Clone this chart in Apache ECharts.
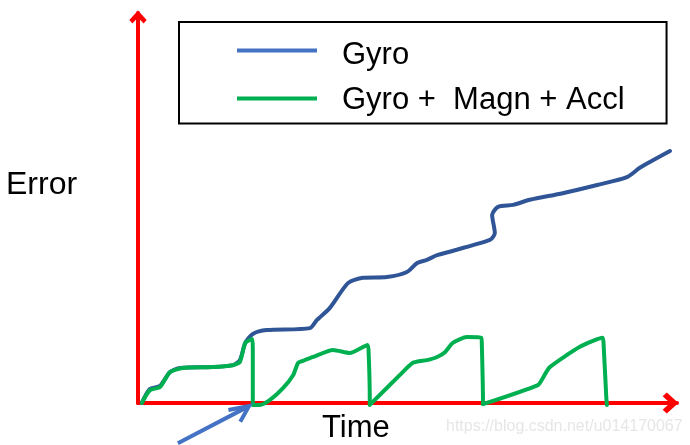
<!DOCTYPE html>
<html>
<head>
<meta charset="utf-8">
<script src="https://cdn.jsdelivr.net/npm/echarts@6/dist/echarts.min.js"></script>
<style>html,body{margin:0;padding:0;background:#fff;}#c{width:690px;height:445px;}</style>
</head>
<body>
<div id="c"></div>
<script>
// Series names
const seriesNames = ['Gyro', 'Gyro +  Magn + Accl'];
// Gyro error: [time, error]
const gyroTime  = [0.7, 2.2, 4.1, 5.9, 7.8, 13.9, 17.6, 18.9, 19.9, 21.3, 23.9, 31.9, 33.2, 35.6, 39.0, 41.7, 46.2, 49.9, 51.8, 53.6, 55.5, 65.3, 66.2, 65.7, 66.8, 69.6, 72.7, 78.8, 85.2, 90.7, 93.1, 98.7];
const gyroError = [0.0, 3.6, 4.4, 7.9, 9.0, 9.2, 9.7, 11.0, 15.4, 17.7, 18.7, 19.2, 21.3, 24.4, 30.8, 32.1, 32.3, 33.6, 35.9, 36.7, 37.9, 41.8, 43.6, 48.2, 50.3, 50.8, 52.1, 53.8, 55.9, 57.9, 60.3, 64.6];
// Gyro + Magn + Accl error: [time, error]
const fusedTime  = [0.7, 2.2, 4.1, 5.9, 8.3, 13.9, 17.6, 18.9, 19.9, 21.2, 21.3, 21.3, 21.3, 22.6, 24.5, 26.9, 28.8, 29.7, 30.6, 32.5, 36.2, 39.3, 42.6, 42.8, 43.0, 43.0, 48.6, 51.0, 53.6, 55.5, 57.0, 58.4, 61.0, 63.7, 63.8, 64.0, 64.0, 74.2, 75.1, 76.4, 82.0, 86.2, 86.4, 86.9, 87.0];
const fusedError = [0.0, 3.3, 4.1, 7.9, 9.0, 9.2, 9.7, 10.5, 15.4, 16.4, 14.0, 1.0, -0.5, -0.5, 0.8, 3.8, 7.2, 10.3, 10.8, 11.8, 13.6, 12.8, 14.9, 12.5, 1.0, -0.5, 7.2, 10.3, 11.0, 11.8, 13.1, 15.4, 16.9, 16.7, 14.5, 1.0, -0.3, 4.6, 6.4, 9.2, 14.4, 16.7, 14.5, 1.0, -0.5];
// Annotation arrow: tail and tip, in data units
const arrowFrom = [7.4, -10.3];
const arrowTo   = [20.6, -0.8];

const zip = (a, b) => a.map((v, i) => [v, b[i]]);
const chevron = 'path://M10,0 L20,11 L16.5,15 L10,8 L3.5,15 L0,11 Z';
const FONT = 'Liberation Sans';

const chart = echarts.init(document.getElementById('c'), null, {renderer: 'canvas'});
chart.setOption({
  animation: false,
  backgroundColor: '#ffffff',
  title: [
    {text: 'Error', left: 6, top: 169, padding: 0, textStyle: {fontFamily: FONT, fontSize: 32, fontWeight: 'normal', color: '#000'}},
    {text: 'Time', left: 322, top: 413, padding: 0, textStyle: {fontFamily: FONT, fontSize: 31, fontWeight: 'normal', color: '#000'}},
    {text: 'https://blog.csdn.net/u014170067', left: 446, top: 419, padding: 0, textStyle: {fontFamily: FONT, fontSize: 16, fontWeight: 'normal', color: '#e6e6e6'}}
  ],
  legend: {
    orient: 'vertical',
    left: 179, top: 22,
    padding: [8.5, 42, 8, 58],
    itemGap: 11,
    icon: 'rect',
    itemWidth: 80, itemHeight: 4,
    borderColor: '#000', borderWidth: 2,
    selectedMode: false,
    formatter: (name) => (name === seriesNames[0] ? '{a|' : '{b|') + name + '}',
    textStyle: {
      fontFamily: FONT, fontSize: 31, color: '#000', padding: [0, 0, 0, 20],
      rich: {
        a: {fontFamily: FONT, fontSize: 31, color: '#000', lineHeight: 30, padding: [9, 0, 0, 0]},
        b: {fontFamily: FONT, fontSize: 31, color: '#000', lineHeight: 30, padding: [3, 0, 0, 0]}
      }
    },
    data: [
      {name: seriesNames[0], itemStyle: {color: '#4472C4'}},
      {name: seriesNames[1], itemStyle: {color: '#00B050'}}
    ]
  },
  grid: {left: 138, right: 13, top: 13, bottom: 42},
  xAxis: {
    type: 'value', min: 0, max: 100,
    axisLine: {show: true, symbol: ['none', chevron], symbolSize: [21, 17], symbolOffset: [0, -6.5], lineStyle: {color: '#FF0000', width: 4}},
    axisTick: {show: false}, axisLabel: {show: false}, splitLine: {show: false}
  },
  yAxis: {
    type: 'value', min: 0, max: 100,
    axisLine: {show: true, onZero: false, symbol: ['none', chevron], symbolSize: [18, 13], symbolOffset: [0, -4], lineStyle: {color: '#FF0000', width: 4}},
    axisTick: {show: false}, axisLabel: {show: false}, splitLine: {show: false}
  },
  series: [
    {
      name: seriesNames[0], type: 'line', data: zip(gyroTime, gyroError),
      symbol: 'none', smooth: 0.25, clip: false,
      lineStyle: {color: '#2F5597', width: 4, cap: 'round', join: 'round'},
      itemStyle: {color: '#2F5597'}
    },
    {
      name: seriesNames[1], type: 'line', data: zip(fusedTime, fusedError),
      symbol: 'none', smooth: 0.2, clip: false,
      lineStyle: {color: '#00B050', width: 4, cap: 'round', join: 'round'},
      itemStyle: {color: '#00B050'}
    }
  ]
});

// Annotation arrow, placed through the chart's own coordinate conversion
const p1 = chart.convertToPixel({gridIndex: 0}, arrowFrom);
const p2 = chart.convertToPixel({gridIndex: 0}, arrowTo);
const ang = Math.atan2(p1[1] - p2[1], p1[0] - p2[0]);
const armA = [p2[0] + 21 * Math.cos(ang + 0.29), p2[1] + 21 * Math.sin(ang + 0.29)];
const armB = [p2[0] + 18 * Math.cos(ang - 0.58), p2[1] + 18 * Math.sin(ang - 0.58)];
chart.setOption({
  graphic: [
    {type: 'line', silent: true, z: 100, shape: {x1: p1[0], y1: p1[1], x2: p2[0] - 1, y2: p2[1] + 0.5}, style: {stroke: '#4472C4', lineWidth: 4}},
    {type: 'polyline', silent: true, z: 100, shape: {points: [armA, p2, armB]}, style: {stroke: '#4472C4', lineWidth: 4, lineJoin: 'miter', fill: null}}
  ]
});
</script>
</body>
</html>
